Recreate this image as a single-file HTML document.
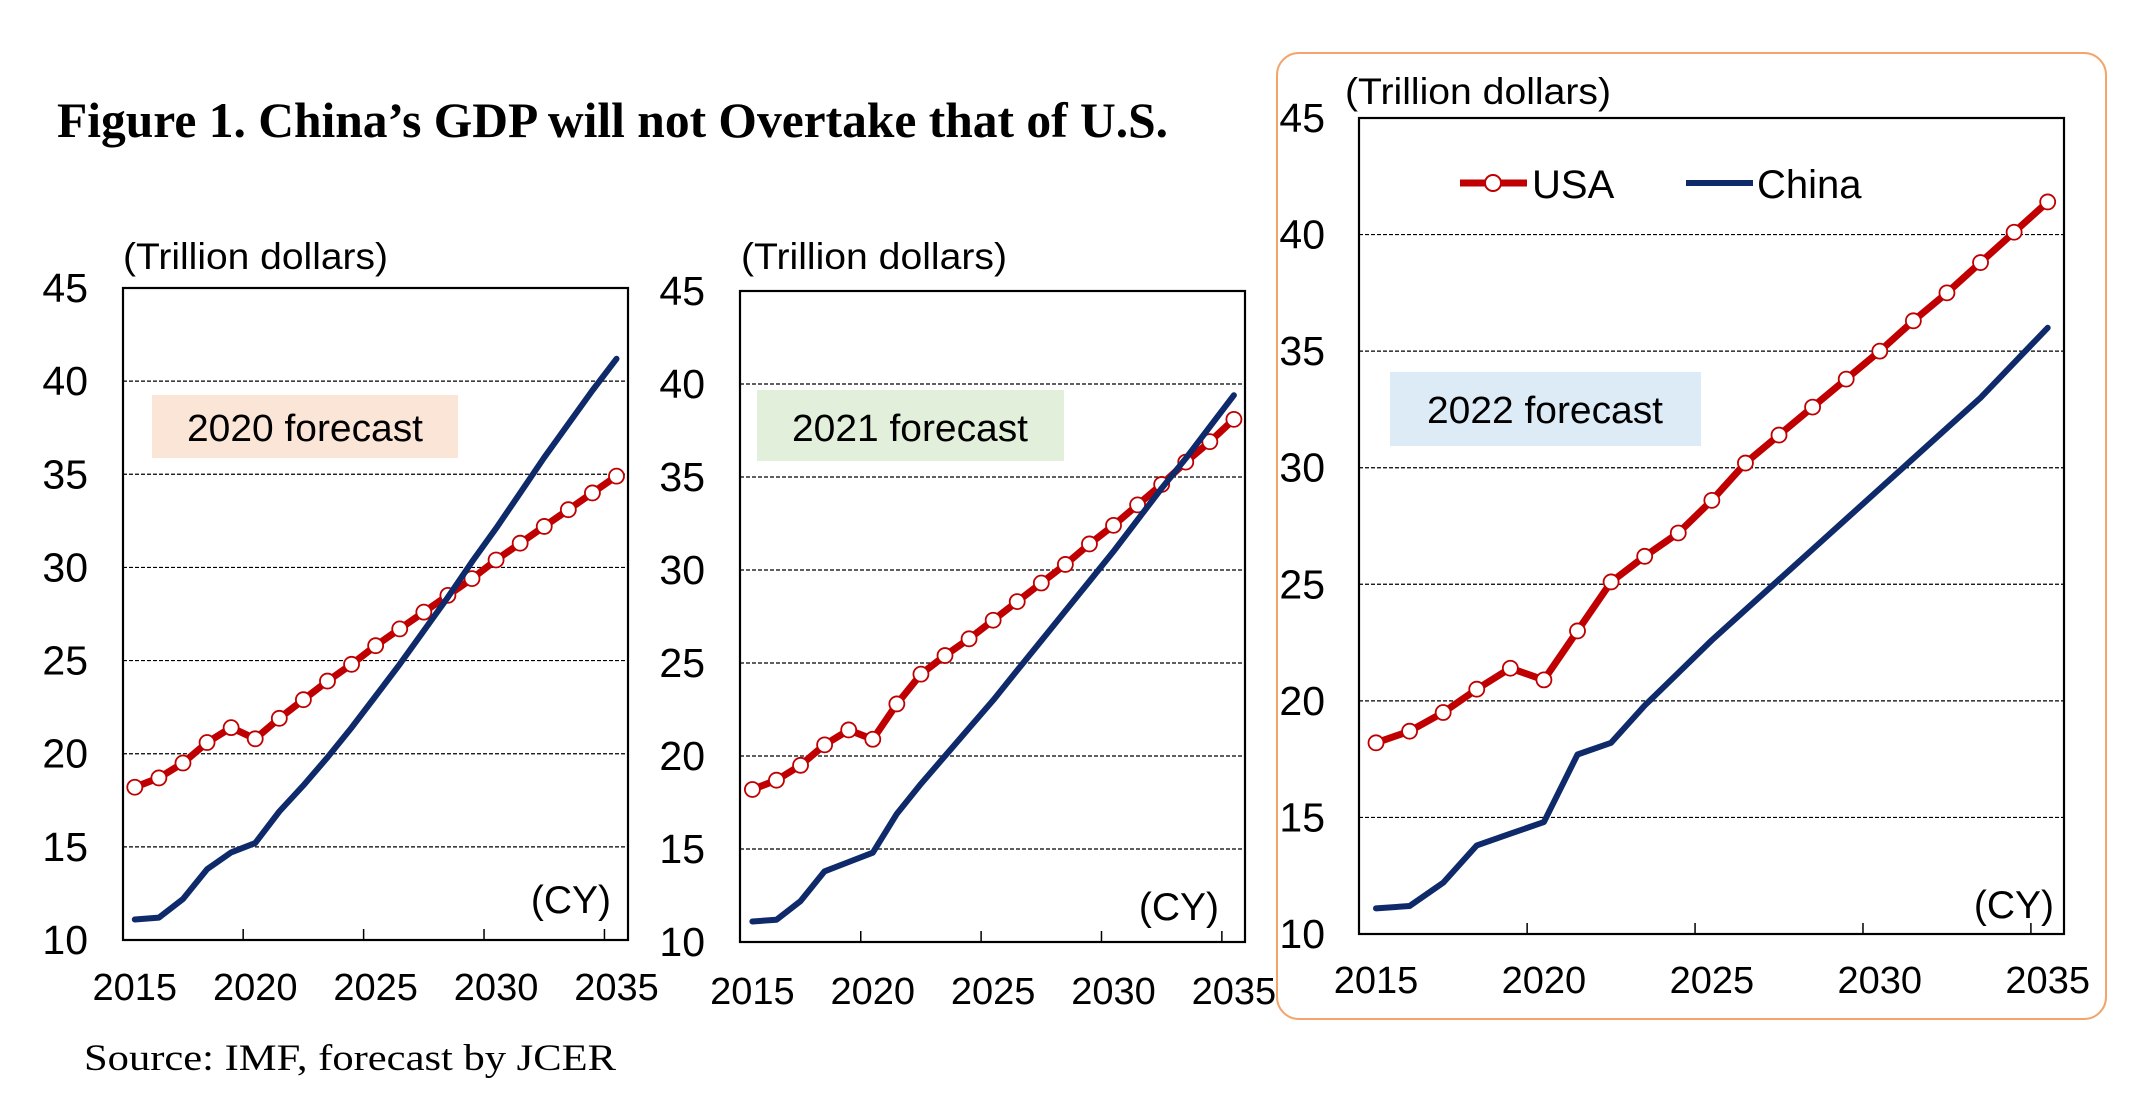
<!DOCTYPE html>
<html><head><meta charset="utf-8"><style>
html,body{margin:0;padding:0;background:#fff;width:2146px;height:1100px;overflow:hidden}
svg{display:block}
text{font-family:"Liberation Sans",Arial,sans-serif;fill:#000}
.t{font-family:"Liberation Serif","Times New Roman",serif}
</style></head><body>
<svg id="s" width="2146" height="1100" viewBox="0 0 2146 1100" xmlns="http://www.w3.org/2000/svg">
<rect x="1277" y="53" width="829" height="966" rx="22" ry="22" fill="none" stroke="#F4A46A" stroke-width="2"/>
<text class="t" x="57" y="137" font-size="50" font-weight="bold" textLength="1111" lengthAdjust="spacingAndGlyphs">Figure 1. China’s GDP will not Overtake that of U.S.</text>
<text class="t" x="84" y="1070" font-size="37" textLength="532" lengthAdjust="spacingAndGlyphs">Source: IMF, forecast by JCER</text>

<!-- chart 1 -->
<rect x="152" y="395" width="306" height="63" fill="#FBE5D6"/>
<text x="305" y="441" font-size="38" text-anchor="middle" textLength="236" lengthAdjust="spacingAndGlyphs">2020 forecast</text>
<text x="123" y="269" font-size="37" textLength="265" lengthAdjust="spacingAndGlyphs">(Trillion dollars)</text>
<text x="611" y="913" font-size="39" text-anchor="end">(CY)</text>
<!-- chart 2 -->
<rect x="757" y="390" width="307" height="71" fill="#E2EFDA"/>
<text x="910" y="441" font-size="38" text-anchor="middle" textLength="236" lengthAdjust="spacingAndGlyphs">2021 forecast</text>
<text x="741" y="269" font-size="37" textLength="266" lengthAdjust="spacingAndGlyphs">(Trillion dollars)</text>
<text x="1219" y="920" font-size="39" text-anchor="end">(CY)</text>
<!-- chart 3 -->
<rect x="1390" y="372" width="311" height="74" fill="#DDEBF7"/>
<text x="1545" y="423" font-size="38" text-anchor="middle" textLength="236" lengthAdjust="spacingAndGlyphs">2022 forecast</text>
<text x="1345" y="104" font-size="37" textLength="266" lengthAdjust="spacingAndGlyphs">(Trillion dollars)</text>
<text x="2054" y="918" font-size="39" text-anchor="end">(CY)</text>
<line x1="1460" y1="183" x2="1527" y2="183" stroke="#C00000" stroke-width="7"/>
<circle cx="1493" cy="183" r="8" fill="#fff" stroke="#C00000" stroke-width="2"/>
<text x="1532" y="198" font-size="40">USA</text>
<line x1="1686" y1="183" x2="1753" y2="183" stroke="#0E2A6B" stroke-width="6"/>
<text x="1757" y="198" font-size="40">China</text>
<g id="g"></g>
</svg>
<script>
var C=[
 {l:123,r:628,t:288,b:940,x0:134.8,x1:616.5,yl:88,xb:1000,
  u:[18.2,18.7,19.5,20.6,21.4,20.8,21.9,22.9,23.9,24.8,25.8,26.7,27.6,28.5,29.4,30.4,31.3,32.2,33.1,34.0,34.9],
  c:[11.1,11.2,12.2,13.8,14.7,15.2,16.9,18.3,19.8,21.4,23.1,24.8,26.6,28.4,30.3,32.1,34.0,35.9,37.7,39.5,41.2]},
 {l:740,r:1245,t:291,b:942,x0:752.4,x1:1233.9,yl:705,xb:1004,
  u:[18.2,18.7,19.5,20.6,21.4,20.9,22.8,24.4,25.4,26.3,27.3,28.3,29.3,30.3,31.4,32.4,33.5,34.6,35.8,36.9,38.1],
  c:[11.1,11.2,12.2,13.8,14.3,14.8,16.9,18.5,20.0,21.5,23.0,24.6,26.2,27.8,29.4,31.0,32.7,34.4,36.0,37.7,39.4]},
 {l:1359,r:2064,t:118,b:934,x0:1376,x1:2047.7,yl:1325,xb:993,
  u:[18.2,18.7,19.5,20.5,21.4,20.9,23.0,25.1,26.2,27.2,28.6,30.2,31.4,32.6,33.8,35.0,36.3,37.5,38.8,40.1,41.4],
  c:[11.1,11.2,12.2,13.8,14.3,14.8,17.7,18.2,19.8,21.2,22.6,23.9,25.2,26.5,27.8,29.1,30.4,31.7,33.0,34.5,36.0]}
];
var h='';
C.forEach(function(o){
 var dy=(o.b-o.t)/35, dx=(o.x1-o.x0)/20;
 function Y(v){return o.b-(v-10)*dy;}
 function X(i){return o.x0+i*dx;}
 for(var v=15;v<=40;v+=5){h+='<line x1="'+o.l+'" x2="'+o.r+'" y1="'+Y(v)+'" y2="'+Y(v)+'" stroke="#000" stroke-width="1.2" stroke-dasharray="4,2"/>';}
 for(var v=10;v<=45;v+=5){h+='<text x="'+o.yl+'" y="'+(Y(v)+14)+'" font-size="41" text-anchor="end">'+v+'</text>';}
 for(var k=0;k<=4;k++){var yr=2015+5*k;h+='<text x="'+X(5*k)+'" y="'+o.xb+'" font-size="38" text-anchor="middle">'+yr+'</text>';
  if(k>0){var tx=X(5*k)-dx/2;h+='<line x1="'+tx+'" x2="'+tx+'" y1="'+o.b+'" y2="'+(o.b-11)+'" stroke="#000" stroke-width="1.5"/>';}}
 var pc=o.c.map(function(v,i){return X(i).toFixed(1)+','+Y(v).toFixed(1)}).join(' ');
 var pu=o.u.map(function(v,i){return X(i).toFixed(1)+','+Y(v).toFixed(1)}).join(' ');
 h+='<polyline points="'+pu+'" fill="none" stroke="#C00000" stroke-width="7" stroke-linejoin="round"/>';
 o.u.forEach(function(v,i){h+='<circle cx="'+X(i)+'" cy="'+Y(v)+'" r="7.5" fill="#fff" stroke="#C00000" stroke-width="1.8"/>';});
 h+='<polyline points="'+pc+'" fill="none" stroke="#0E2A6B" stroke-width="6" stroke-linejoin="round" stroke-linecap="round"/>';
 h+='<rect x="'+o.l+'" y="'+o.t+'" width="'+(o.r-o.l)+'" height="'+(o.b-o.t)+'" fill="none" stroke="#000" stroke-width="2.2"/>';
});
document.getElementById('g').innerHTML=h;
</script>
</body></html>
